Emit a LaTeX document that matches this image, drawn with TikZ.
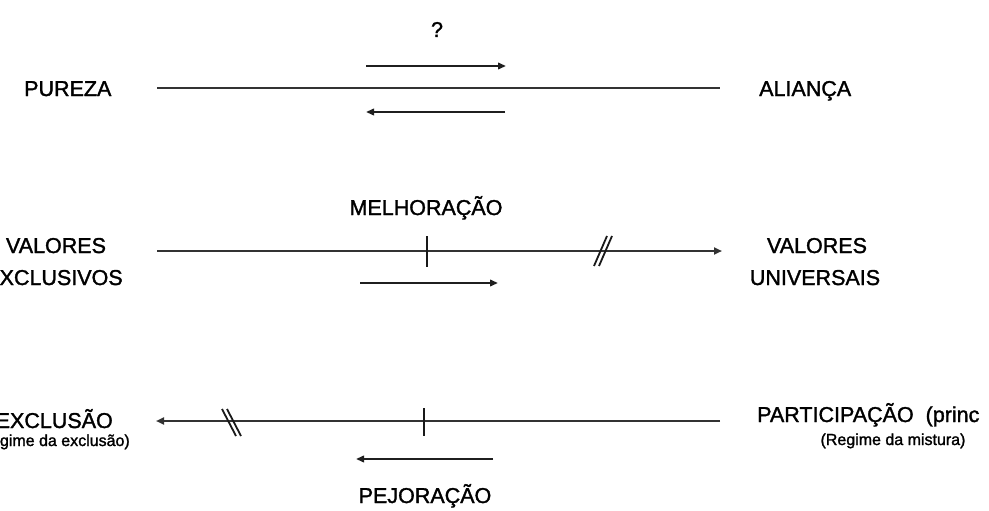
\documentclass[tikz,border=0pt]{standalone}
\usepackage{fontspec}
\setmainfont{Liberation Sans}
\newfontfamily\hv{Liberation Sans}[FakeBold=1.5]
\usetikzlibrary{arrows.meta}
\begin{document}
\begin{tikzpicture}[x=1pt,y=-1pt,
  lbl/.style={inner sep=0pt, font=\hv\fontsize{21.5}{26}\selectfont},
  sml/.style={inner sep=0pt, font=\hv\fontsize{16}{19}\selectfont},
  axis/.style={line width=2.6pt, draw=black!80},
  dir/.style={line width=2.1pt, draw=black!88, -{Triangle[length=8pt,width=6.5pt]}},
  axisarr/.style={axis, -{Triangle[length=8pt,width=7pt]}},
  tickmark/.style={line width=2.4pt, draw=black!90},
  slash/.style={line width=1.8pt, draw=black!90}]
\useasboundingbox (0,0) rectangle (989,511);
\clip (0,0) rectangle (989,511);
% ---- row 1
\node[lbl, anchor=base] (q) at (437,37) {?};
\node[lbl, anchor=base west] (pureza) at (24,96) {PUREZA};
\node[lbl, anchor=base west] (alianca) at (759,96) {ALIANÇA};
\coordinate (r1a) at (157,88); \coordinate (r1b) at (720,88);
\draw[axis] (r1a) -- (r1b);
\coordinate (t1a) at (366,66); \coordinate (t1b) at (506,66);
\draw[dir] (t1a) -- (t1b);
\coordinate (b1a) at (505,112); \coordinate (b1b) at (366,112);
\draw[dir] (b1a) -- (b1b);
% ---- row 2
\node[lbl, anchor=base] (melh) at (426,215) {MELHORAÇÃO};
\node[lbl, anchor=base] (valex1) at (56,253) {VALORES};
\node[lbl, anchor=base] (valex2) at (54,285) {EXCLUSIVOS};
\node[lbl, anchor=base] (valun1) at (817,253) {VALORES};
\node[lbl, anchor=base] (valun2) at (815,285) {UNIVERSAIS};
\coordinate (r2a) at (157,251); \coordinate (r2b) at (722,251);
\draw[axisarr] (r2a) -- (r2b);
\coordinate (k2a) at (427,236); \coordinate (k2b) at (427,267);
\draw[tickmark] (k2a) -- (k2b);
\coordinate (s2a) at (594,266); \coordinate (s2b) at (607,236);
\coordinate (s2c) at (599,266); \coordinate (s2d) at (612,236);
\draw[slash] (s2a) -- (s2b);
\draw[slash] (s2c) -- (s2d);
\coordinate (a2a) at (360,283); \coordinate (a2b) at (498,283);
\draw[dir] (a2a) -- (a2b);
% ---- row 3
\node[lbl, anchor=base east] (excl) at (113,428) {EXCLUSÃO};
\node[sml, anchor=base east] (regex) at (130,446) {(Regime da exclusão)};
\node[lbl, anchor=base west] (part) at (757,422) {PARTICIPAÇÃO\ \ (princ};
\node[sml, anchor=base] (regmi) at (893,445) {(Regime da mistura)};
\node[lbl, anchor=base] (pejo) at (425,503) {PEJORAÇÃO};
\coordinate (r3a) at (720,421); \coordinate (r3b) at (156,421);
\draw[axisarr] (r3a) -- (r3b);
\coordinate (k3a) at (424,408); \coordinate (k3b) at (424,436);
\draw[tickmark] (k3a) -- (k3b);
\coordinate (s3a) at (222,409); \coordinate (s3b) at (236,436);
\coordinate (s3c) at (227,409); \coordinate (s3d) at (241,436);
\draw[slash] (s3a) -- (s3b);
\draw[slash] (s3c) -- (s3d);
\coordinate (a3a) at (493,459); \coordinate (a3b) at (356,459);
\draw[dir] (a3a) -- (a3b);
\end{tikzpicture}
\end{document}
